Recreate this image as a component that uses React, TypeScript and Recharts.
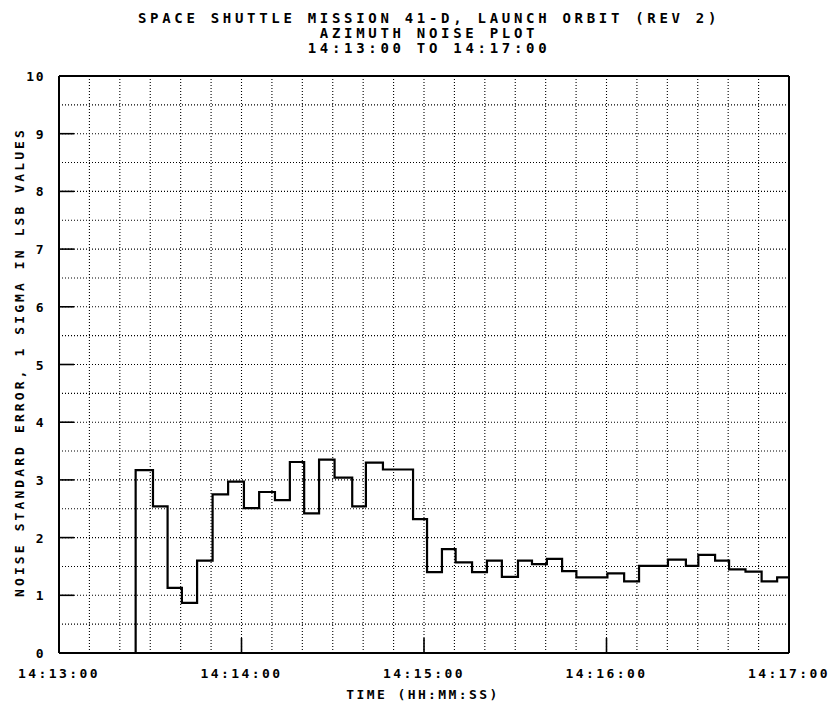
import React from 'react';
import { LineChart, Line, XAxis, YAxis, CartesianGrid } from 'recharts';

// seconds after 14:13:00 where each step starts, and the noise level held from there
const stepTimes = [
  0, 25.2, 30.9, 35.7, 40.4, 45.4, 50.5, 55.6, 60.8, 65.8, 71.0, 75.9, 80.6, 85.5, 90.6, 96.4,
  100.9, 106.5, 116.4, 121.0, 125.9, 130.4, 135.8, 140.7, 145.6, 150.9, 155.5, 160.4, 165.4,
  170.1, 180.3, 185.8, 190.7, 200.2, 206.1, 210.2, 215.7, 220.3, 225.7, 231.0, 236.1, 240,
];
const sigmaLsb = [
  0, 3.17, 2.54, 1.13, 0.87, 1.6, 2.75, 2.97, 2.51, 2.79, 2.65, 3.31, 2.42, 3.35, 3.04, 2.54,
  3.3, 3.18, 2.32, 1.4, 1.8, 1.57, 1.4, 1.6, 1.32, 1.6, 1.54, 1.63, 1.42,
  1.31, 1.38, 1.24, 1.51, 1.62, 1.51, 1.7, 1.6, 1.45, 1.41, 1.24, 1.31, 1.31,
];

const xGridTicks = [0, 10, 20, 30, 40, 50, 60, 70, 80, 90, 100, 110, 120, 130, 140, 150, 160, 170, 180, 190, 200, 210, 220, 230, 240];
const xLabels: Record<number, string> = {
  0: '14:13:00',
  60: '14:14:00',
  120: '14:15:00',
  180: '14:16:00',
  240: '14:17:00',
};
const yGridTicks = [0, 0.5, 1, 1.5, 2, 2.5, 3, 3.5, 4, 4.5, 5, 5.5, 6, 6.5, 7, 7.5, 8, 8.5, 9, 9.5, 10];

const data = stepTimes.map((t, i) => ({ t, v: sigmaLsb[i] }));

const FONT = '"DejaVu Sans Mono", "Liberation Mono", monospace';

// tickSize/tickMargin are 0, so x is the axis line itself
const YTick = (props: any) => {
  const { x, y, payload } = props;
  if (!Number.isInteger(payload.value)) return null;
  return (
    <g>
      {payload.value > 0 && payload.value < 10 && (
        <line x1={x} x2={x + 15} y1={y} y2={y} stroke="#000" strokeWidth={1.6} />
      )}
      <text x={x - 14} y={y + 5} textAnchor="end" fontFamily={FONT} fontSize={13} fontWeight={600} letterSpacing={1.5} fill="#000">
        {payload.value}
      </text>
    </g>
  );
};

const XTick = (props: any) => {
  const { x, y, payload } = props;
  const label = xLabels[payload.value];
  if (!label) return null;
  return (
    <g>
      {payload.value > 0 && payload.value < 240 && (
        <line x1={x} x2={x} y1={y} y2={y - 15} stroke="#000" strokeWidth={1.6} />
      )}
      <text x={x} y={y + 25} textAnchor="middle" fontFamily={FONT} fontSize={13} fontWeight={600} letterSpacing={2.4} fill="#000">
        {label}
      </text>
    </g>
  );
};

const titleStyle: React.CSSProperties = {
  position: 'absolute',
  left: 0,
  width: 858,
  textAlign: 'center',
  fontFamily: FONT,
  fontSize: 14,
  fontWeight: 600,
  letterSpacing: 3.7,
  whiteSpace: 'pre',
  color: '#000',
  lineHeight: '14px',
};

const border = { stroke: '#000', strokeWidth: 2 };

export default function App() {
  return (
    <div style={{ position: 'absolute', left: 0, top: 0, width: 840, height: 706, background: '#fff' }}>
      <div style={{ ...titleStyle, top: 11 }}>SPACE SHUTTLE MISSION 41-D, LAUNCH ORBIT (REV 2)</div>
      <div style={{ ...titleStyle, top: 26 }}>AZIMUTH NOISE PLOT</div>
      <div style={{ ...titleStyle, top: 41 }}>14:13:00 TO 14:17:00</div>
      <LineChart width={840} height={706} data={data} margin={{ top: 75, right: 50, bottom: 0, left: 0 }}>
        <CartesianGrid stroke="#000" strokeWidth={1.1} strokeDasharray="1 2" />
        <XAxis
          dataKey="t"
          type="number"
          domain={[0, 240]}
          ticks={xGridTicks}
          interval={0}
          height={53}
          tickSize={0}
          tickMargin={0}
          tick={<XTick />}
          axisLine={border}
        />
        <XAxis xAxisId="top" orientation="top" dataKey="t" type="number" domain={[0, 240]} height={1} tick={false} tickLine={false} axisLine={border} />
        <YAxis
          domain={[0, 10]}
          ticks={yGridTicks}
          interval={0}
          width={59}
          tickSize={0}
          tickMargin={0}
          tick={<YTick />}
          axisLine={border}
        />
        <YAxis yAxisId="right" orientation="right" domain={[0, 10]} width={1} tick={false} tickLine={false} axisLine={border} />
        <Line
          type="stepAfter"
          dataKey="v"
          stroke="#000"
          strokeWidth={2.2}
          dot={false}
          isAnimationActive={false}
        />
      </LineChart>
      <div
        style={{
          position: 'absolute',
          left: 423,
          top: 694,
          transform: 'translate(-50%, -50%)',
          fontFamily: FONT,
          fontSize: 13,
          fontWeight: 600,
          letterSpacing: 2.4,
          whiteSpace: 'pre',
        }}
      >
        TIME (HH:MM:SS)
      </div>
      <div
        style={{
          position: 'absolute',
          left: 19,
          top: 362,
          transform: 'translate(-50%, -50%) rotate(-90deg)',
          fontFamily: FONT,
          fontSize: 13,
          fontWeight: 600,
          letterSpacing: 3.1,
          whiteSpace: 'pre',
        }}
      >
        NOISE STANDARD ERROR, 1 SIGMA IN LSB VALUES
      </div>
    </div>
  );
}
